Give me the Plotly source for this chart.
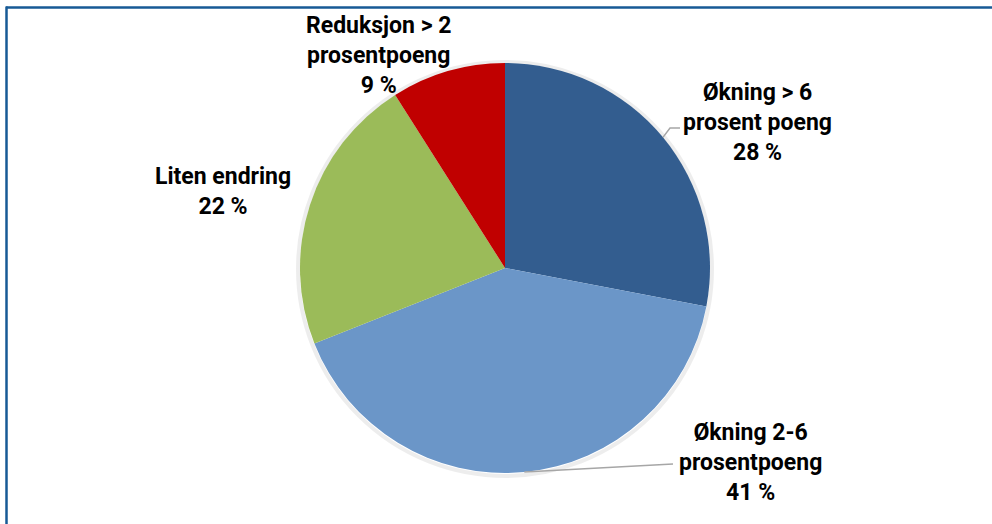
import math
import plotly.graph_objects as go

# Share of units by change category
categories = [
    "Økning > 6 prosent poeng",
    "Økning 2-6 prosentpoeng",
    "Liten endring",
    "Reduksjon > 2 prosentpoeng",
]
values = [28, 41, 22, 9]
label_text = [
    "Økning > 6<br>prosent poeng<br>28 %",
    "Økning 2-6<br>prosentpoeng<br>41 %",
    "Liten endring<br>22 %",
    "Reduksjon > 2<br>prosentpoeng<br>9 %",
]
colors = ["#335D8F", "#6B96C8", "#9BBB59", "#C00000"]

W, H = 992, 524
CX, CY, R = 505, 268, 205  # pie centre and radius in pixels


def px(x):
    return x / W


def py(y):
    return 1 - y / H


fig = go.Figure()

fig.add_trace(go.Pie(
    labels=categories,
    values=values,
    sort=False,
    direction="clockwise",
    rotation=0,
    marker=dict(colors=colors, line=dict(width=0)),
    textinfo="none",
    hoverinfo="label+percent",
    showlegend=False,
    domain=dict(x=[px(CX - R), px(CX + R)], y=[py(CY + R), py(CY - R)]),
))

# label placement (centre of text block, in pixels)
label_pos = [(757, 123), (750, 462), (223, 192), (378, 56)]
font = dict(family="Liberation Sans Narrow, Roboto, Arial", size=23, color="#000000")
annotations = []
for txt, (lx, ly) in zip(label_text, label_pos):
    annotations.append(dict(
        x=px(lx), y=py(ly), xref="paper", yref="paper",
        text="<b>" + txt + "</b>", showarrow=False, font=font,
        xanchor="center", yanchor="middle", align="center",
    ))

# leader lines from slice mid-points on the rim
total = sum(values)
cum = 0
mids = []
for v in values:
    mids.append((cum + v / 2) / total * 2 * math.pi)
    cum += v


def rim(angle):
    return CX + R * math.sin(angle), CY - R * math.cos(angle)


shapes = []
leader_style = dict(color="#A6A6A6", width=1.5)
# slice 0
sx, sy = rim(mids[0])
path0 = f"M {px(sx)},{py(sy)} L {px(670)},{py(128)} L {px(680)},{py(128)}"
shapes.append(dict(type="path", xref="paper", yref="paper", path=path0, line=leader_style))
# slice 1
sx, sy = rim(mids[1])
shapes.append(dict(type="line", xref="paper", yref="paper",
                   x0=px(sx), y0=py(sy), x1=px(673), y1=py(464), line=leader_style))

# soft rim shadow
shapes.insert(0, dict(type="circle", xref="paper", yref="paper",
                      x0=px(CX - R - 2), x1=px(CX + R + 2),
                      y0=py(CY + R + 3), y1=py(CY - R - 1),
                      line=dict(color="rgba(0,0,0,0.07)", width=4),
                      fillcolor="rgba(0,0,0,0)", layer="below"))

# frame (top and left edges)
frame = dict(color="#175A96", width=2.5)
shapes.append(dict(type="line", xref="paper", yref="paper",
                   x0=px(6), y0=py(7.5), x1=1, y1=py(7.5), line=frame))
shapes.append(dict(type="line", xref="paper", yref="paper",
                   x0=px(6.5), y0=py(6.5), x1=px(6.5), y1=0, line=frame))

fig.update_layout(
    width=W, height=H,
    margin=dict(l=0, r=0, t=0, b=0),
    paper_bgcolor="white",
    plot_bgcolor="white",
    annotations=annotations,
    shapes=shapes,
)

fig.write_html("out.html")
